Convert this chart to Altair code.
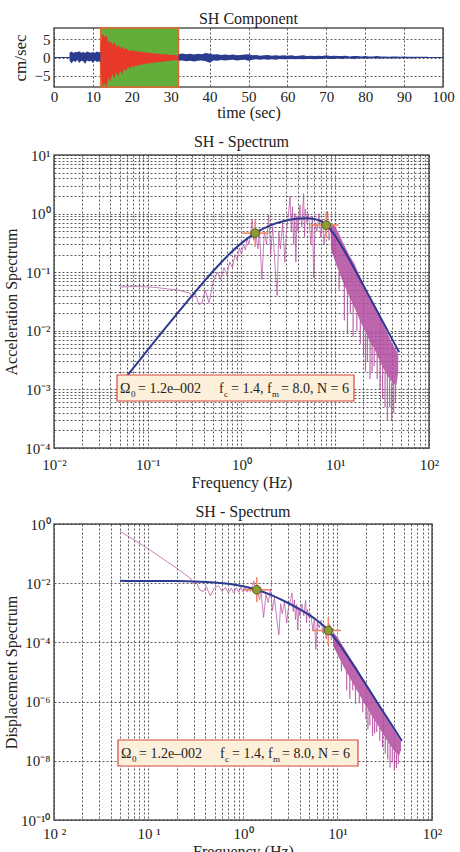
import altair as alt
import pandas as pd

FONT = "Liberation Serif"

# ---------------- seismogram (SH component) ----------------
pre_t = [4.0 + 0.5 * i for i in range(17)]
pre_top = [1.3, 1.6, 1.2, 1.5, 1.4, 1.7, 1.3, 1.5, 1.2, 1.6, 1.4, 1.3, 1.5, 1.2, 1.6, 1.4, 1.5]
pre_bot = [-0.8, -1.6, -0.9, -1.2, -0.7, -1.5, -0.9, -1.0, -1.7, -0.8, -1.1, -0.9, -1.5, -0.8, -1.2, -1.0, -1.3]

win_t = [12.0 + 0.5 * i for i in range(41)]
win_top = [3.5, 6.5, 5.5, 6.0, 4.0, 4.5, 3.5, 4.2, 2.8, 3.5,
           2.5, 3.0, 2.2, 2.6, 2.0, 1.7, 2.2, 1.6, 1.9, 1.4,
           1.8, 1.3, 1.6, 1.2, 1.5, 1.1, 1.3, 1.0, 1.2, 0.9,
           1.1, 0.8, 1.0, 0.8, 0.9, 0.7, 0.8, 0.6, 0.7, 0.6, 0.5]
win_bot = [-4.0, -8.0, -7.0, -8.0, -5.5, -6.5, -4.5, -5.8, -4.0, -5.2,
           -3.6, -4.6, -3.0, -3.8, -2.6, -3.0, -2.2, -2.7, -2.0, -2.4,
           -1.8, -2.2, -1.6, -1.9, -1.5, -1.7, -1.3, -1.6, -1.2, -1.4,
           -1.1, -1.3, -1.0, -1.2, -0.9, -1.0, -0.8, -0.9, -0.7, -0.8, -0.6]

post_t = [32.0 + i for i in range(66)]
post_top = [0.9, 1.1, 0.9, 1.0, 0.8, 1.0, 0.9, 1.2, 1.0, 0.8,
            0.9, 0.7, 0.8, 0.7, 0.8, 0.6, 0.7, 0.8, 0.9, 0.6,
            0.7, 0.5, 0.6, 0.7, 0.5, 0.6, 0.5, 0.6, 0.5, 0.6,
            0.4, 0.5, 0.6, 0.4, 0.5, 0.4, 0.5, 0.4, 0.6, 0.4,
            0.5, 0.4, 0.4, 0.5, 0.3, 0.4, 0.4, 0.3, 0.4, 0.3,
            0.3, 0.4, 0.3, 0.3, 0.2, 0.3, 0.3, 0.2, 0.3, 0.2,
            0.2, 0.2, 0.2, 0.2, 0.2, 0.1]
post_bot = [-0.9, -0.8, -1.0, -0.9, -1.1, -0.9, -0.8, -1.0, -1.4, -0.8,
            -0.9, -0.7, -0.8, -0.7, -0.6, -0.8, -0.7, -0.6, -0.9, -0.6,
            -0.5, -0.6, -0.5, -0.6, -0.5, -0.6, -0.4, -0.5, -0.5, -0.4,
            -0.5, -0.4, -0.5, -0.4, -0.4, -0.5, -0.4, -0.4, -0.3, -0.4,
            -0.4, -0.3, -0.4, -0.3, -0.3, -0.4, -0.3, -0.3, -0.3, -0.3,
            -0.2, -0.3, -0.3, -0.2, -0.2, -0.3, -0.2, -0.2, -0.2, -0.2,
            -0.2, -0.2, -0.1, -0.2, -0.1, -0.1]

pick_window = [12.0, 32.0]
time_span = [0.0, 100.0]
amp_span = [-8.0, 8.0]

# ---------------- observed spectrum ----------------
obs_f = [0.05, 0.08, 0.12, 0.16, 0.2, 0.24, 0.28, 0.3, 0.32, 0.35, 0.38, 0.41, 0.45,
         0.5, 0.55, 0.6, 0.65, 0.7, 0.75, 0.8, 0.85, 0.9, 0.95,
         1.0, 1.05, 1.1, 1.15, 1.2, 1.25, 1.3, 1.35, 1.4,
         1.5, 1.55, 1.65, 1.75, 1.85, 1.95,
         2.05, 2.15, 2.3, 2.4, 2.5, 2.6, 2.75, 2.9,
         3.0, 3.15, 3.3, 3.4, 3.5, 3.6, 3.7, 3.8, 3.9,
         4.0, 4.2, 4.4, 4.6, 4.7, 4.8,
         5.0, 5.2, 5.5, 5.7, 5.9, 6.1, 6.4, 6.7, 7.0, 7.3, 7.6,
         8.0, 8.3, 8.6, 9.0, 9.5, 10.0]
obs_acc = [0.056, 0.057, 0.055, 0.052, 0.05, 0.047, 0.044, 0.035, 0.045, 0.028, 0.03, 0.05, 0.03,
           0.07, 0.1, 0.075, 0.12, 0.09, 0.15, 0.12, 0.2, 0.16, 0.26,
           0.2, 0.3, 0.24, 0.38, 0.3, 0.45, 0.8, 0.35, 0.5,
           0.25, 0.55, 0.075, 0.5, 0.3, 0.95,
           0.2, 0.6, 0.1, 0.04, 0.5, 0.25, 0.7, 0.15,
           0.45, 0.9, 2.0, 0.5, 1.3, 0.3, 1.0, 0.15, 0.9,
           0.5, 1.4, 0.6, 2.2, 0.4, 1.2,
           0.7, 1.0, 0.3, 0.9, 0.08, 0.7, 0.5, 1.0, 0.4, 0.8, 0.3,
           0.7, 1.1, 0.35, 0.6, 0.2, 0.45]
obs_disp = [0.567, 0.2256, 0.0967, 0.0514, 0.0317, 0.0207, 0.0142, 0.00985, 0.0111, 0.00579, 0.00526, 0.00753, 0.00375,
            0.00709, 0.00838, 0.00528, 0.00719, 0.00465, 0.00675, 0.00475, 0.00701, 0.0050, 0.0073,
            0.00507, 0.00689, 0.00502, 0.00728, 0.00528, 0.0073, 0.0120, 0.00486, 0.00646,
            0.00281, 0.0058, 0.0007, 0.00414, 0.00222, 0.00633,
            0.0012, 0.0033, 0.00048, 0.00018, 0.0020, 0.00094, 0.0023, 0.00045,
            0.0013, 0.0023, 0.0047, 0.0011, 0.0027, 0.00059, 0.0019, 0.00026, 0.0015,
            0.00079, 0.0020, 0.00079, 0.0026, 0.00046, 0.0013,
            0.00071, 0.00094, 0.00025, 0.0007, 0.000058, 0.00048, 0.00031, 0.00056, 0.00021, 0.00038, 0.00013,
            0.00028, 0.0004, 0.00012, 0.00019, 0.000056, 0.000114]

# dense high-frequency part: envelope
band_f = [9, 10, 11, 12, 14, 16, 18, 20, 23, 26, 30, 34, 38, 42, 45, 47]
band_acc_hi = [0.7, 0.6, 0.45, 0.33, 0.2, 0.14, 0.09, 0.065, 0.04, 0.027, 0.017, 0.011, 0.0075, 0.0055, 0.0045, 0.004]
band_acc_lo = [0.25, 0.15, 0.1, 0.07, 0.04, 0.025, 0.016, 0.011, 0.007, 0.005, 0.003, 0.002, 0.0015, 0.0012, 0.0012, 0.002]
band_disp_hi = [2.19e-4, 1.52e-4, 9.4e-5, 5.8e-5, 2.58e-5, 1.39e-5, 7.0e-6, 4.1e-6, 1.92e-6, 1.01e-6, 4.8e-7, 2.4e-7, 1.32e-7, 7.9e-8, 5.6e-8, 4.6e-8]
band_disp_lo = [7.8e-5, 3.8e-5, 2.09e-5, 1.23e-5, 5.2e-6, 2.47e-6, 1.25e-6, 7.0e-7, 3.35e-7, 1.87e-7, 8.4e-8, 4.4e-8, 2.6e-8, 1.72e-8, 1.5e-8, 2.3e-8]

# deep downward spikes in the dense part
spike_f = [11, 12.5, 13.5, 14.5, 15.5, 17, 18.5, 20, 21, 22, 23.5, 24.7, 26, 28, 30, 32, 34, 36, 38, 40, 42, 44]
spike_acc_top = [0.1, 0.07, 0.05, 0.04, 0.03, 0.02, 0.015, 0.011, 0.009, 0.008, 0.007, 0.006, 0.005, 0.004, 0.003, 0.0025, 0.002, 0.0018, 0.0015, 0.0013, 0.0012, 0.0012]
spike_acc_min = [0.05, 0.015, 0.009, 0.02, 0.008, 0.01, 0.006, 0.004, 0.002, 0.003, 0.0015, 0.002, 0.0025, 0.0015, 0.001, 0.0007, 0.0005, 0.0003, 0.0005, 0.0003, 0.0004, 0.0006]
spike_disp_top = [2.1e-5, 1.13e-5, 6.9e-6, 4.8e-6, 3.2e-6, 1.75e-6, 1.11e-6, 7.0e-7, 5.2e-7, 4.2e-7, 3.2e-7, 2.5e-7, 1.87e-7, 1.29e-7, 8.4e-8, 6.2e-8, 4.4e-8, 3.5e-8, 2.6e-8, 2.06e-8, 1.72e-8, 1.57e-8]
spike_disp_min = [1.05e-5, 2.43e-6, 1.25e-6, 2.4e-6, 8.4e-7, 8.8e-7, 4.4e-7, 2.5e-7, 1.15e-7, 1.57e-7, 6.9e-8, 8.3e-8, 9.4e-8, 4.8e-8, 2.8e-8, 1.73e-8, 1.1e-8, 5.9e-9, 8.8e-9, 4.7e-9, 5.7e-9, 7.8e-9]

# ---------------- fitted source model ----------------
model_f = [0.05, 0.07, 0.1, 0.15, 0.2, 0.3, 0.5, 0.7, 1.0, 1.4, 2, 3, 4, 5, 6, 8, 10, 12, 15, 20, 25, 30, 35, 40, 45, 48]
model_acc = [0.00118, 0.00231, 0.00471, 0.01054, 0.01857, 0.04077, 0.105, 0.1857, 0.3137, 0.464, 0.623, 0.761, 0.821,
             0.836, 0.811, 0.637, 0.415, 0.260, 0.1383, 0.0590, 0.0303, 0.01757, 0.01107, 0.00742, 0.005215, 0.0043]
model_disp = [0.011985, 0.01197, 0.01194, 0.01186, 0.01176, 0.01147, 0.01064, 0.0096, 0.007946, 0.006, 0.003946, 0.002143,
              0.0013, 0.000847, 0.000571, 0.000252, 0.0001051, 4.58e-5, 1.557e-5, 3.74e-6, 1.229e-6, 4.94e-7, 2.29e-7,
              1.175e-7, 6.52e-8, 4.72e-8]

# corner points and their uncertainty crosses
corner_f = [1.4, 8.0]
corner_acc = [0.464, 0.637]
corner_disp = [0.006, 0.000252]
corner_f_lo = [1.02, 5.4]
corner_f_hi = [1.95, 10.9]
corner_acc_lo = [0.27, 0.38]
corner_acc_hi = [0.77, 1.07]
corner_disp_lo = [0.0023, 8.1e-5]
corner_disp_hi = [0.0159, 7.2e-4]

# ---------------- colours ----------------
BLUE_TR = "#2b3c8e"
RED_TR = "#e8382a"
GREEN = "#63ad3b"
MAGENTA = "#b24a9f"
MODEL = "#2e3991"
CROSS = "#f3805c"

# ---------------- top panel ----------------
xs_t = alt.Scale(domain=time_span, nice=False)
ys_t = alt.Scale(domain=amp_span, nice=False)
ax_t = alt.Axis(values=list(range(0, 101, 10)), title="time (sec)", labelPadding=2, titlePadding=0,
                grid=True, titleFontSize=16)
ay_t = alt.Axis(values=[-5, 0, 5], title="cm/sec", labelPadding=4, titlePadding=5, grid=True,
                titleFontSize=17)


def TX(f):
    return alt.X(f, type="quantitative", scale=xs_t, axis=ax_t)


def TY(f):
    return alt.Y(f, type="quantitative", scale=ys_t, axis=ay_t)


def trace(t, top, bot, color):
    df = pd.DataFrame({"t": t, "top": top, "bot": bot})
    return alt.Chart(df).mark_area(color=color, opacity=1, clip=True).encode(
        x=TX("t"), y=TY("top"), y2="bot")


d_win = pd.DataFrame({"t0": [pick_window[0]], "t1": [pick_window[1]], "y0": [amp_span[0]], "y1": [amp_span[1]]})
green = alt.Chart(d_win).mark_rect(fill=GREEN, stroke="#e26a2c", strokeWidth=1.5).encode(
    x=TX("t0"), x2="t1", y=TY("y0"), y2="y1")
d_base = pd.DataFrame({"t0": [time_span[0]], "t1": [time_span[1]], "y": [0.0]})
base0 = alt.Chart(d_base).mark_rule(color=BLUE_TR, strokeWidth=1).encode(x=TX("t0"), x2="t1", y=TY("y"))

top_chart = alt.layer(
    green, base0,
    trace(pre_t, pre_top, pre_bot, BLUE_TR),
    trace(post_t, post_top, post_bot, BLUE_TR),
    trace(win_t, win_top, win_bot, RED_TR),
).properties(width=389, height=59,
             title=alt.TitleParams("SH Component", offset=0, frame="group"))

# ---------------- spectrum panels ----------------
one = pd.DataFrame({"a": [0]})


def decade_label_expr(labels, emin):
    arr = "[" + ",".join("'" + s + "'" for s in labels) + "]"
    e = "(log(datum.value)/LN10)"
    return f"abs({e} - round({e})) < 0.02 ? {arr}[round({e}) - ({emin})] : ''"


minor_x = [m * 10.0 ** e for e in range(-2, 2) for m in range(1, 10)] + [100.0]


def spectrum(title, title_offset, ytitle, ydomain, yvals, ylabels, yemin, xlabels, width, height,
             obs, band_hi, band_lo, sp_top, sp_min, model, corner, c_lo, c_hi,
             box_x, box_y, x_label_pad, x_title_pad, y_title_pad):
    xs = alt.Scale(type="log", domain=[0.01, 100], nice=False)
    ys = alt.Scale(type="log", domain=ydomain, nice=False)
    xa = alt.Axis(values=minor_x, labelExpr=decade_label_expr(xlabels, -2), title="Frequency (Hz)",
                  labelPadding=x_label_pad, titlePadding=x_title_pad, grid=True)
    ya = alt.Axis(values=yvals, labelExpr=decade_label_expr(ylabels, yemin), title=ytitle,
                  labelPadding=4, titlePadding=y_title_pad, grid=True)

    def X(f):
        return alt.X(f, type="quantitative", scale=xs, axis=xa)

    def Y(f):
        return alt.Y(f, type="quantitative", scale=ys, axis=ya)

    d_obs = pd.DataFrame({"f": obs_f, "v": obs})
    d_band = pd.DataFrame({"f": band_f, "hi": band_hi, "lo": band_lo})
    d_sp = pd.DataFrame({"f": spike_f, "top": sp_top, "mn": sp_min})
    d_mod = pd.DataFrame({"f": model_f, "v": model})
    d_c = pd.DataFrame({"f": corner_f, "v": corner, "flo": corner_f_lo, "fhi": corner_f_hi,
                        "vlo": c_lo, "vhi": c_hi})

    band = alt.Chart(d_band).mark_area(color=MAGENTA, opacity=0.85).encode(x=X("f"), y=Y("hi"), y2="lo")
    spikes = alt.Chart(d_sp).mark_rule(color=MAGENTA, strokeWidth=1.2, opacity=0.85).encode(
        x=X("f"), y=Y("top"), y2="mn")
    obsl = alt.Chart(d_obs).mark_line(color=MAGENTA, strokeWidth=1, opacity=0.7).encode(x=X("f"), y=Y("v"))
    mod = alt.Chart(d_mod).mark_line(color=MODEL, strokeWidth=2, interpolate="monotone").encode(
        x=X("f"), y=Y("v"))
    ch = alt.Chart(d_c).mark_rule(color=CROSS, strokeWidth=1.5).encode(x=X("flo"), x2="fhi", y=Y("v"))
    cv = alt.Chart(d_c).mark_rule(color=CROSS, strokeWidth=1.5).encode(x=X("f"), y=Y("vlo"), y2="vhi")
    dots = alt.Chart(d_c).mark_circle(size=75, fill="#8e9a36", stroke="#55601c", strokeWidth=1,
                                      opacity=1).encode(x=X("f"), y=Y("v"))

    bx0, bx1 = box_x
    box = alt.Chart(one).mark_rect(fill="#fdf0da", stroke="#d8473c", strokeWidth=1.2).encode(
        x=alt.value(bx0), x2=alt.value(bx1), y=alt.value(box_y[0]), y2=alt.value(box_y[1]))
    ty = (box_y[0] + box_y[1]) / 2 + 1
    segs = [("Ω", 3, 14, 0), ("0", 14, 9, 5), ("= 1.2e–002", 21, 14, 0),
            ("f", 102, 14, 0), ("c", 107, 9, 5), ("= 1.4, f", 114, 14, 0),
            ("m", 155, 9, 5), ("= 8.0, N = 6", 164, 14, 0)]
    texts = [alt.Chart(one).mark_text(text=s, align="left", baseline="middle", font=FONT,
                                      fontSize=fs, color="#222", dy=dyy).encode(
        x=alt.value(bx0 + px), y=alt.value(ty)) for s, px, fs, dyy in segs]

    return alt.layer(band, spikes, obsl, mod, ch, cv, dots, box, *texts).properties(
        width=width, height=height, title=alt.TitleParams(title, offset=title_offset, frame="group"))


mid_yvals = [m * 10.0 ** e for e in range(-4, 1) for m in range(1, 10)] + [10.0]
mid_chart = spectrum(
    "SH - Spectrum", -2, "Acceleration Spectrum", [1e-4, 10], mid_yvals,
    ["10⁻⁴", "10⁻³", "10⁻²", "10⁻¹", "10⁰", "10¹"], -4,
    ["10⁻²", "10⁻¹", "10⁰", "10¹", "10²"], 375, 293,
    obs_acc, band_acc_hi, band_acc_lo, spike_acc_top, spike_acc_min, model_acc,
    corner_acc, corner_acc_lo, corner_acc_hi, (63, 300), (220, 246), 9, 2, 5)

bot_yvals = [1e-10, 1e-8, 1e-6, 1e-4, 1e-2, 1.0]
bot_chart = spectrum(
    "SH - Spectrum", -3, "Displacement Spectrum", [1e-10, 1], bot_yvals,
    ["10⁻¹⁰", "", "10⁻⁸", "", "10⁻⁶", "", "10⁻⁴", "", "10⁻²", "", "10⁰"], -10,
    ["10 ²", "10 ¹", "10⁰", "10¹", "10²"], 378, 296,
    obs_disp, band_disp_hi, band_disp_lo, spike_disp_top, spike_disp_min, model_disp,
    corner_disp, corner_disp_lo, corner_disp_hi, (64, 304), (216, 242), 6, 2, 1)

chart = alt.vconcat(top_chart, mid_chart, bot_chart, spacing=12).properties(
    padding={"top": 10, "left": 2, "right": 2, "bottom": 0},
    background="white",
).configure_view(stroke="#555", strokeWidth=1.5).configure_axis(
    labelFont=FONT, titleFont=FONT, labelFontSize=15, titleFontSize=16, titleFontWeight="normal",
    labelColor="#222", titleColor="#222", gridColor="#333", gridDash=[2, 2], gridWidth=0.8,
    gridOpacity=1, ticks=False, domain=False, labelOverlap=False, labelFlush=False,
).configure_title(font=FONT, fontSize=16, fontWeight="normal", color="#222", anchor="middle")

chart.save("out.html", embed_options={"renderer": "svg", "actions": False})
